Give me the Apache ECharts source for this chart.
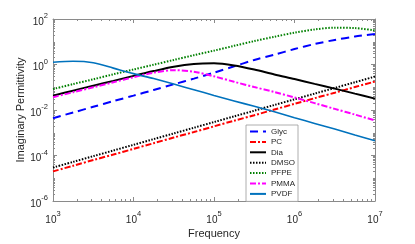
<!DOCTYPE html>
<html>
<head>
<meta charset="utf-8">
<script src="https://cdn.jsdelivr.net/npm/echarts/dist/echarts.min.js"></script>
<style>
html,body{margin:0;padding:0;background:#fff;}
#c{width:415px;height:244px;}
</style>
</head>
<body>
<div id="c"></div>
<script>
// Frequency grid (Hz), quarter-decade points
const freqs = [1000, 1778, 3162, 5623, 10000, 17783, 31623, 56234, 100000, 177828, 316228, 562341, 1000000, 1778279, 3162278, 5623413, 10000000];

const seriesNames = ['Glyc', 'PC', 'Dia', 'DMSO', 'PFPE', 'PMMA', 'PVDF'];

const glyc = [0.00437, 0.00776, 0.0138, 0.0245, 0.0427, 0.0759, 0.135, 0.240, 0.437, 0.832, 1.585, 2.69, 4.79, 7.94, 12.0, 17.0, 21.9];
const pc   = [2.0e-5, 3.55e-5, 6.31e-5, 1.10e-4, 1.95e-4, 3.47e-4, 6.17e-4, 0.00107, 0.00191, 0.00339, 0.00589, 0.0105, 0.0186, 0.0331, 0.0575, 0.102, 0.178];
const dia  = [0.0427, 0.0708, 0.1175, 0.1905, 0.316, 0.513, 0.794, 1.047, 1.122, 0.912, 0.603, 0.363, 0.229, 0.141, 0.0871, 0.0525, 0.0316];
const dmso = [2.95e-5, 5.25e-5, 9.33e-5, 1.66e-4, 2.95e-4, 5.25e-4, 9.33e-4, 0.00166, 0.00295, 0.00525, 0.00933, 0.0166, 0.0295, 0.0525, 0.0933, 0.166, 0.295];
const pfpe = [0.0832, 0.138, 0.224, 0.372, 0.603, 0.977, 1.585, 2.57, 4.07, 6.61, 10.7, 16.6, 25.1, 34.7, 41.7, 39.8, 31.6];
const pmma = [0.0363, 0.0603, 0.1, 0.166, 0.275, 0.437, 0.562, 0.479, 0.302, 0.174, 0.102, 0.0617, 0.0355, 0.02, 0.0112, 0.0063, 0.00347];
const pvdf = [1.259, 1.396, 1.202, 0.692, 0.398, 0.240, 0.138, 0.0776, 0.0437, 0.0251, 0.0145, 0.00832, 0.00457, 0.00257, 0.00145, 0.000794, 0.000447];

// Tick values / labels
const xTickValues = [1e3, 1e4, 1e5, 1e6, 1e7];
const yTickValues = [1e-6, 1e-4, 1e-2, 1, 1e2];

function minorTicks(lo, hi, majors) {
  const out = [];
  for (let e = lo; e < hi; e++) {
    for (let m = 1; m <= 9; m++) {
      const v = m * Math.pow(10, e);
      if (!majors.some(t => Math.abs(t - v) / v < 1e-9)) out.push(v);
    }
  }
  return out;
}
const xMinor = minorTicks(3, 7, xTickValues);
const yMinor = minorTicks(-6, 2, yTickValues);

const FONT = 'Liberation Sans';
const TXT = '#262626';
const AX = '#8a8a8a';

const rich = {
  b: { fontSize: 10, lineHeight: 10, fontFamily: FONT, color: TXT, verticalAlign: 'bottom' },
  s: { fontSize: 7.5, lineHeight: 8, fontFamily: FONT, color: TXT, verticalAlign: 'bottom', padding: [0, 0, 7, 0] }
};
function expFmt(v) {
  const e = Math.round(Math.log10(v));
  return '{b|10}{s|' + e + '}';
}

function logAxis(pos, min, max, major, minorVals, isMain, extra) {
  return [
    Object.assign({
      type: 'log', logBase: 10, min: min, max: max, position: pos,
      axisLine: { show: true, lineStyle: { color: AX, width: 1 } },
      axisTick: { show: true, inside: true, length: 4, customValues: major, lineStyle: { color: AX, width: 1 } },
      axisLabel: isMain ? { show: true, customValues: major, formatter: expFmt, rich: rich, margin: 3 } : { show: false },
      splitLine: { show: false }, minorTick: { show: false }
    }, extra || {}),
    {
      type: 'log', logBase: 10, min: min, max: max, position: pos,
      axisLine: { show: false },
      axisTick: { show: true, inside: true, length: 2, customValues: minorVals, lineStyle: { color: AX, width: 1 } },
      axisLabel: { show: false },
      splitLine: { show: false }
    }
  ];
}

const xAxes = [].concat(
  logAxis('bottom', 1e3, 1e7, xTickValues, xMinor, true, {
    name: 'Frequency', nameLocation: 'middle', nameGap: 27, nameMoveOverlap: false,
    nameTextStyle: { fontSize: 11, fontFamily: FONT, color: TXT }
  }),
  logAxis('top', 1e3, 1e7, xTickValues, xMinor, false)
);
const yAxes = [].concat(
  logAxis('left', 1e-6, 1e2, yTickValues, yMinor, true, {
    name: 'Imaginary Permittivity', nameLocation: 'middle', nameGap: 27, nameMoveOverlap: false,
    nameTextStyle: { fontSize: 11, fontFamily: FONT, color: TXT }
  }),
  logAxis('right', 1e-6, 1e2, yTickValues, yMinor, false)
);
xAxes[0].axisLabel.margin = 14;
yAxes[0].axisLabel.margin = 5;
yAxes[0].axisLabel.padding = [6, 0, 0, 0];

const styles = {
  Glyc: { color: '#0000ff', type: [8, 5], width: 2 },
  PC:   { color: '#ff0000', type: [6, 2, 2, 2], width: 2 },
  Dia:  { color: '#000000', type: 'solid', width: 2 },
  DMSO: { color: '#000000', type: [1.5, 1.5], width: 2 },
  PFPE: { color: '#008000', type: [1.5, 1.5], width: 2 },
  PMMA: { color: '#ff00ff', type: [6, 2, 2, 2], width: 2 },
  PVDF: { color: '#0072bd', type: 'solid', width: 1.6 }
};
const values = { Glyc: glyc, PC: pc, Dia: dia, DMSO: dmso, PFPE: pfpe, PMMA: pmma, PVDF: pvdf };

const series = seriesNames.map(n => ({
  name: n, type: 'line', xAxisIndex: 0, yAxisIndex: 0,
  data: freqs.map((f, i) => [f, values[n][i]]),
  symbol: 'none', smooth: 0.3,
  lineStyle: styles[n], itemStyle: { color: styles[n].color },
  emphasis: { disabled: true }
}));

const chart = echarts.init(document.getElementById('c'), null, { renderer: 'canvas' });
chart.setOption({
  animation: false,
  backgroundColor: '#fff',
  grid: { left: 53, right: 40, top: 19, bottom: 38 },
  xAxis: xAxes,
  yAxis: yAxes,
  legend: {
    data: seriesNames, orient: 'vertical', left: 246, top: 125,
    itemWidth: 16, itemHeight: 9, itemGap: 1.4,
    padding: [2, 3, 3, 3],
    backgroundColor: '#fff', borderColor: '#999', borderWidth: 0.8,
    itemStyle: { opacity: 0 },
    textStyle: { fontSize: 8, fontFamily: FONT, color: TXT, lineHeight: 9 },
    selectedMode: false
  },
  series: series
});
</script>
</body>
</html>
